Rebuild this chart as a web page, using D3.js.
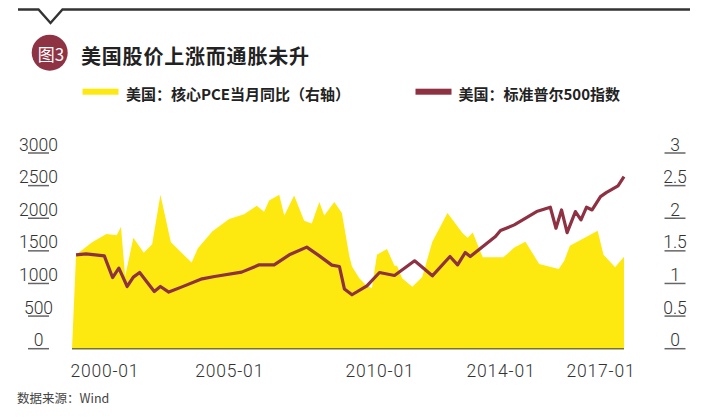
<!DOCTYPE html>
<html><head><meta charset="utf-8">
<script src="https://cdn.jsdelivr.net/npm/d3@7"></script>
<style>
html,body{margin:0;padding:0;background:#fff;}
svg{display:block;}
</style>
</head><body>
<svg id="c" width="707" height="419"></svg>
<script>
// ---- data ----
const title = "美国股价上涨而通胀未升";
const badge = "图3";
const legendPCE = "美国：核心PCE当月同比（右轴）";
const legendSPX = "美国：标准普尔500指数";
const source = "数据来源：Wind";

const xTickLabels = ["2000-01","2005-01","2010-01","2014-01","2017-01"];
const leftTicks = [0,500,1000,1500,2000,2500,3000];
const rightTicks = [0,0.5,1,1.5,2,2.5,3];

const pceDates = ["1998-09","1998-11","1999-07","2000-02","2000-07","2000-09","2000-11","2001-03","2001-08","2001-12",
  "2002-04","2002-09","2003-07","2003-10","2004-05","2005-01","2005-07","2005-12","2006-03","2006-05",
  "2006-09","2006-11","2007-03","2007-07","2007-10","2008-01","2008-03","2008-07","2008-10","2009-01",
  "2009-02","2009-05","2009-08","2009-10","2009-12","2010-04","2010-07","2010-08","2010-10","2011-02",
  "2011-06","2011-10","2012-04","2012-10","2012-12","2013-02","2013-04","2013-06","2013-11","2014-02",
  "2014-06","2014-10","2015-03","2015-10","2015-12","2016-02","2016-12","2017-02","2017-06","2017-09"];
const pceValues = [0,1.44,1.63,1.76,1.74,1.87,1.11,1.70,1.47,1.60,
  2.36,1.63,1.32,1.54,1.80,1.99,2.06,2.19,2.10,2.27,
  2.36,2.04,2.35,1.96,1.92,2.25,2.04,2.25,2.08,1.41,
  1.26,1.08,0.96,0.93,1.44,1.53,1.27,1.27,1.08,0.95,
  1.10,1.64,2.08,1.77,1.70,1.78,1.59,1.40,1.40,1.40,
  1.55,1.64,1.30,1.22,1.35,1.58,1.81,1.44,1.25,1.41];

const spxDates = ["1998-11","1999-04","2000-01","2000-05","2000-08","2000-12","2001-03","2001-06","2002-01","2002-04",
  "2002-08","2003-02","2003-12","2004-06","2005-06","2006-01","2006-07","2007-01","2007-08","2008-01",
  "2008-06","2008-09","2008-11","2009-02","2009-08","2010-01","2010-07","2011-03","2011-10","2012-05",
  "2012-08","2012-11","2013-01","2013-11","2014-01","2014-06","2015-02","2015-07","2015-09","2015-11",
  "2016-01","2016-04","2016-06","2016-08","2016-10","2017-01","2017-03","2017-07","2017-09"];
const spxValues = [1439,1454,1423,1091,1235,954,1097,1168,877,954,
  868,944,1071,1107,1174,1286,1286,1439,1557,1423,
  1281,1260,914,827,964,1168,1122,1347,1117,1413,
  1286,1474,1413,1719,1811,1898,2102,2169,1847,2127,
  1780,2102,1974,2169,2127,2331,2392,2495,2637];

// ---- layout ----
const parse = d3.timeParse("%Y-%m");
const fmt = d3.timeFormat("%Y-%m");
const plotL = 72, plotR = 624, plotB = 348.7, plotT = 153;
const YELLOW = "#FDE910", MAROON = "#8E3142";

const svg = d3.select("#c");

const xStops = ["1998-09","2000-01","2005-01","2010-01","2014-01","2017-01","2017-09"].map(parse);
const x = d3.scaleTime().domain(xStops).range([plotL,104.3,229.2,379.5,500.5,600.5,plotR]);
const yL = d3.scaleLinear().domain([0,3000]).range([plotB,plotT]);
const yR = d3.scaleLinear().domain([0,3]).range([plotB,plotT]);

const pce = pceDates.map((d,i)=>({date:parse(d), v:pceValues[i]}));
const spx = spxDates.map((d,i)=>({date:parse(d), v:spxValues[i]}));

// header decoration
svg.append("path")
  .attr("d", d3.line()([[18,9.5],[38.5,9.5],[50.5,23],[62.5,9.5],[690,9.5]]))
  .attr("fill","none").attr("stroke","#333").attr("stroke-width",2.4);

svg.append("circle").attr("cx",49.7).attr("cy",52.7).attr("r",18).attr("fill","#8E3344");
svg.append("text").text(badge).attr("x",51).attr("y",53)
  .attr("text-anchor","middle").attr("dominant-baseline","central")
  .attr("font-family","'Noto Sans CJK SC'").attr("font-size",17).attr("fill","#fff");

svg.append("text").text(title).attr("x",81).attr("y",55)
  .attr("dominant-baseline","central")
  .attr("font-family","'Noto Sans CJK SC'").attr("font-weight",700)
  .attr("font-size",20).attr("letter-spacing",0.8).attr("fill","#222");

// legend
svg.append("rect").attr("x",82.5).attr("y",88.7).attr("width",36).attr("height",6).attr("fill",YELLOW);
svg.append("text").text(legendPCE).attr("x",126).attr("y",93)
  .attr("dominant-baseline","central").attr("font-family","'Noto Sans CJK SC'")
  .attr("font-weight",700).attr("font-size",15).attr("fill","#222");
svg.append("rect").attr("x",415.5).attr("y",88.7).attr("width",36).attr("height",6).attr("fill",MAROON);
svg.append("text").text(legendSPX).attr("x",458.5).attr("y",93)
  .attr("dominant-baseline","central").attr("font-family","'Noto Sans CJK SC'")
  .attr("font-weight",700).attr("font-size",15).attr("fill","#222");

// area
svg.append("path").datum(pce)
  .attr("d", d3.area().x(d=>x(d.date)).y0(yR(0)).y1(d=>yR(d.v)))
  .attr("fill",YELLOW);

// baseline
svg.append("line").attr("x1",plotL).attr("x2",plotR).attr("y1",plotB).attr("y2",plotB)
  .attr("stroke","#77723a").attr("stroke-width",1.5);

// line
svg.append("path").datum(spx)
  .attr("d", d3.line().x(d=>x(d.date)).y(d=>yL(d.v)))
  .attr("fill","none").attr("stroke",MAROON).attr("stroke-width",3.2)
  .attr("stroke-linejoin","round");

// axes
const axisFont = "Roboto, 'Liberation Sans', sans-serif";
function yAxis(scale, ticks, cx, fmtFn){
  const g = svg.append("g");
  ticks.forEach(t=>{
    g.append("line").attr("x1",cx-10.5).attr("x2",cx+10.5)
      .attr("y1",scale(t)).attr("y2",scale(t))
      .attr("stroke","#666").attr("stroke-width",1.5);
    g.append("text").text(fmtFn(t)).attr("x",cx).attr("y",scale(t)-2.5)
      .attr("text-anchor","middle").attr("font-family",axisFont)
      .attr("font-weight",300).attr("font-size",17.5).attr("fill","#333");
  });
}
yAxis(yL, leftTicks, 38.5, d=>String(d));
yAxis(yR, rightTicks, 675, d=>String(d));

const xAxis = d3.axisBottom(x).tickValues(xTickLabels.map(parse)).tickFormat(fmt).tickSize(0).tickPadding(0);
const gx = svg.append("g").attr("transform",`translate(0,${plotB})`).call(xAxis);
gx.select(".domain").remove();
gx.selectAll("text").attr("y",28.6).attr("dy",null)
  .attr("font-family",axisFont).attr("font-weight",300).attr("font-size",17.5)
  .attr("letter-spacing",0.8).attr("fill","#333");

// source
svg.append("text").text(source).attr("x",17).attr("y",403)
  .attr("font-family","'Noto Sans CJK SC'").attr("font-size",12.5).attr("fill","#444");
</script>
</body></html>
